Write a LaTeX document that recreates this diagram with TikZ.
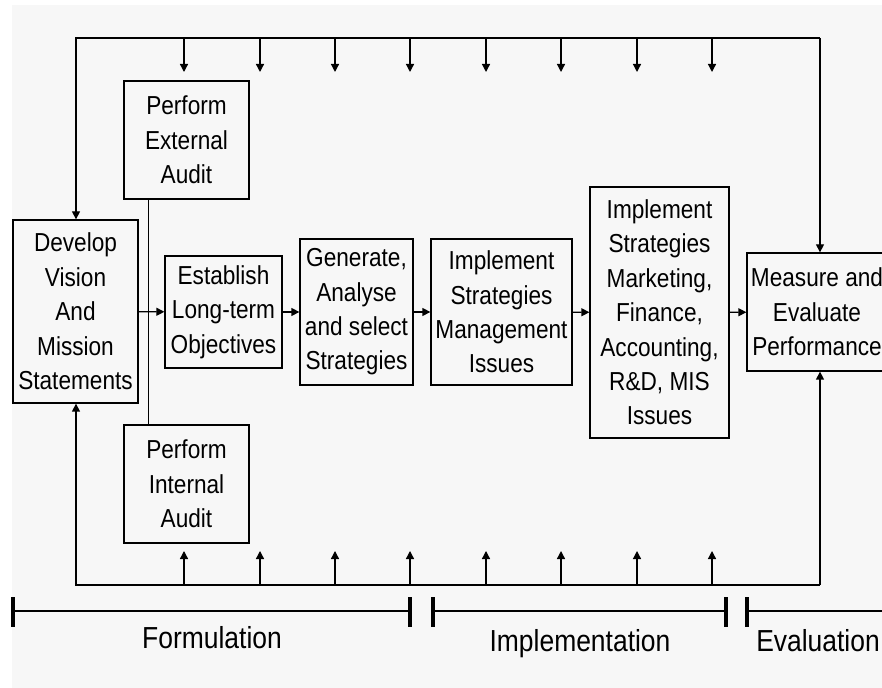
\documentclass[tikz,border=0pt]{standalone}
\usepackage{fontspec}
\setmainfont[FakeStretch=0.87]{Liberation Sans}
\usetikzlibrary{arrows.meta}

\begin{document}
\begin{tikzpicture}[x=0.5pt, y=-0.5pt,
  stage/.style={draw, line width=0.65pt, align=center, inner sep=0pt,
    font=\fontsize{13}{17.2}\selectfont},
  phase/.style={anchor=base, font=\fontsize{15.2}{18}\selectfont},
  flow/.style={line width=0.65pt, -{Triangle[length=4pt,width=4pt]}},
  tick/.style={line width=1.6pt}]
\def\ytop{38}
\def\ybot{585}
\def\yline{611}

\useasboundingbox (0,0) rectangle (882,688);
\fill[gray!6] (12,5) rectangle (882,688);

%% the stages
\node[stage, minimum width=62.5pt, minimum height=91.5pt] (dev) at (75.5,311.5) {Develop\\Vision\\And\\Mission\\Statements};
\node[stage, minimum width=62.5pt, minimum height=59pt] (ext) at (186.5,140) {Perform\\External\\Audit};
\node[stage, minimum width=62.5pt, minimum height=59pt] (int) at (186.5,484) {Perform\\Internal\\Audit};
\node[stage, minimum width=58.5pt, minimum height=56pt] (est) at (223.5,312) {Establish\\Long-term\\Objectives};
\node[stage, minimum width=56.5pt, minimum height=73pt] (gen) at (356.5,312) {Generate,\\Analyse\\and select\\Strategies};
\node[stage, minimum width=70.5pt, minimum height=73pt] (mgmt) at (501.5,312) {Implement\\Strategies\\Management\\Issues};
\node[stage, minimum width=69.5pt, minimum height=125.5pt] (mkt) at (659.5,312.5) {Implement\\Strategies\\Marketing,\\Finance,\\Accounting,\\R\&D, MIS\\Issues};
\node[stage, minimum width=70pt, minimum height=59pt] (meas) at (817,312) {Measure and\\Evaluate\\Performance};

%% main flow
\draw[flow] (dev) -- (est);
\draw[flow] (est) -- (gen);
\draw[flow] (gen) -- (mgmt);
\draw[flow] (mgmt) -- (mkt);
\draw[flow] (mkt) -- (meas);
\draw[line width=0.65pt] ([xshift=12.5pt]ext.south west) -- ([xshift=12.5pt]int.north west);

%% feedback loops
\coordinate (tl) at (76,\ytop);
\coordinate (tr) at (820,\ytop);
\coordinate (bl) at (76,\ybot);
\coordinate (br) at (820,\ybot);
\draw[flow] (tr) -- (tl) -- (tl |- dev.north);
\draw[flow] (tr) -- (tr |- meas.north);
\draw[flow] (br) -- (bl) -- (bl |- dev.south);
\draw[flow] (br) -- (br |- meas.south);
\foreach \x in {184,260,335,410,486,561,637,712} {
  \draw[flow] (\x,\ytop) -- (\x,72);
  \draw[flow] (\x,\ybot) -- (\x,551);
}

%% phases
\draw[line width=0.65pt] (13,\yline) -- (410,\yline);
\draw[line width=0.65pt] (433,\yline) -- (726,\yline);
\draw[line width=0.65pt] (747,\yline) -- (890,\yline);
\foreach \x in {13,410,433,726,747}
  \draw[tick] (\x,597) -- (\x,627);
\node[phase] (form) at (212,648) {Formulation};
\node[phase] (impl) at (580,651) {Implementation};
\node[phase] (eval) at (818,651) {Evaluation};
\end{tikzpicture}
\end{document}
